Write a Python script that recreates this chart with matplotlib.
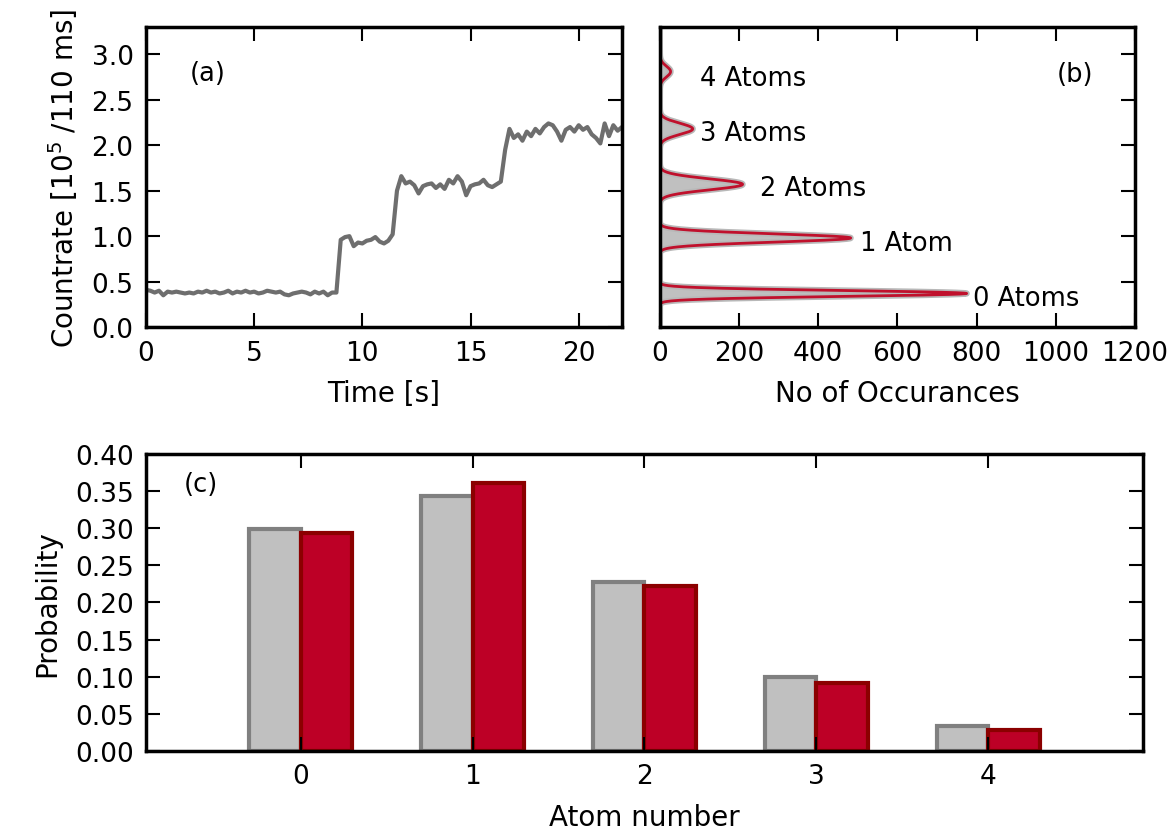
import numpy as np
import matplotlib
matplotlib.use("Agg")
import matplotlib.pyplot as plt

# --- (a) fluorescence trace, 0.2 s sampling ---
time_s = np.round(np.arange(111) * 0.2, 1)
countrate = [
    0.41, 0.40, 0.38, 0.40, 0.35, 0.39, 0.38, 0.39, 0.38, 0.37,
    0.38, 0.37, 0.39, 0.38, 0.40, 0.38, 0.39, 0.37, 0.38, 0.40,
    0.37, 0.39, 0.38, 0.40, 0.38, 0.39, 0.37, 0.38, 0.40, 0.39,
    0.38, 0.39, 0.36, 0.35, 0.37, 0.38, 0.39, 0.38, 0.36, 0.39,
    0.37, 0.39, 0.35, 0.38, 0.38,
    0.96, 0.99, 1.00, 0.89, 0.93, 0.92, 0.95, 0.96, 0.99, 0.94,
    0.92, 0.95, 1.02,
    1.50, 1.66, 1.58, 1.60, 1.56, 1.47, 1.55, 1.57, 1.58, 1.53,
    1.57, 1.52, 1.62, 1.58, 1.66, 1.60, 1.45, 1.55, 1.57, 1.58,
    1.62, 1.56, 1.54, 1.57, 1.60,
    1.95, 2.18, 2.08, 2.12, 2.05, 2.15, 2.10, 2.18, 2.13, 2.20,
    2.24, 2.22, 2.15, 2.05, 2.17, 2.20, 2.15, 2.22, 2.17, 2.20,
    2.12, 2.08, 2.02, 2.24, 2.10, 2.22, 2.16, 2.20,
]

# --- (b) multi-peak fit of the count histogram ---
peak_labels = ["0 Atoms", "1 Atom", "2 Atoms", "3 Atoms", "4 Atoms"]
peak_centers = [0.37, 0.98, 1.57, 2.18, 2.81]
peak_heights = [775, 482, 209, 83, 27]
peak_widths = [0.032, 0.045, 0.060, 0.062, 0.060]
label_pos_x = [790, 505, 253, 101, 101]
label_pos_y = [0.32, 0.92, 1.53, 2.13, 2.74]

# --- (c) atom number statistics ---
atom_number = [0, 1, 2, 3, 4]
prob_measured = [0.299, 0.344, 0.228, 0.100, 0.034]
prob_fit = [0.293, 0.361, 0.222, 0.091, 0.028]

plt.rcParams['font.family'] = 'DejaVu Sans'
plt.rcParams['font.size'] = 19

TICK = 19
LABEL = 20
NOTE = 18.5

fig = plt.figure(figsize=(11.7, 8.37), dpi=100)
ax1 = fig.add_axes([0.1248, 0.608, 0.4068, 0.3585])
ax2 = fig.add_axes([0.564, 0.608, 0.406, 0.3585])
ax3 = fig.add_axes([0.1248, 0.1016, 0.852, 0.3548])


def style(ax):
    for s in ax.spines.values():
        s.set_linewidth(2.5)
    ax.tick_params(direction='in', length=10, width=1.5, top=True, right=True,
                   labelsize=TICK, pad=9)


ax1.plot(time_s, countrate, color='#6e6e6e', lw=3)
ax1.set_xlim(0, 22)
ax1.set_ylim(0, 3.3)
ax1.set_xticks([0, 5, 10, 15, 20])
ax1.set_yticks([0.0, 0.5, 1.0, 1.5, 2.0, 2.5, 3.0])
ax1.set_yticklabels(['0.0', '0.5', '1.0', '1.5', '2.0', '2.5', '3.0'])
ax1.set_xlabel('Time [s]', fontsize=LABEL, labelpad=10)
ax1.set_ylabel('Countrate [10$^5$ /110 ms]', fontsize=LABEL, labelpad=8)
ax1.text(2.0, 2.79, '(a)', fontsize=NOTE, va='center')
style(ax1)

y = np.linspace(0, 3.3, 1500)
fit = np.zeros_like(y)
for c, h, w in zip(peak_centers, peak_heights, peak_widths):
    fit += h * np.exp(-0.5 * ((y - c) / w) ** 2)
ax2.fill_betweenx(y, 0, fit, color='#c0c0c0', lw=0)
ax2.plot(fit, y, color='#b8b8b8', lw=4.5)
ax2.plot(fit, y, color='#c0102c', lw=2)
for lab, lx, ly in zip(peak_labels, label_pos_x, label_pos_y):
    ax2.text(lx, ly, lab, fontsize=NOTE, va='center')
ax2.text(1003, 2.78, '(b)', fontsize=NOTE, va='center')
ax2.set_xlim(0, 1200)
ax2.set_ylim(0, 3.3)
ax2.set_xticks([0, 200, 400, 600, 800, 1000, 1200])
ax2.set_yticks([0.0, 0.5, 1.0, 1.5, 2.0, 2.5, 3.0])
ax2.set_xlabel('No of Occurances', fontsize=LABEL, labelpad=10)
style(ax2)
ax2.tick_params(left=False, labelleft=False)

x = np.array(atom_number)
ax3.bar(x - 0.3, prob_measured, width=0.3, align='edge', color='#c0c0c0',
        edgecolor='#808080', lw=3)
ax3.bar(x, prob_fit, width=0.3, align='edge', color='#bd0026',
        edgecolor='#8b0000', lw=3)
ax3.set_xlim(-0.9, 4.9)
ax3.set_ylim(0, 0.4)
ax3.set_xticks(atom_number)
ax3.set_yticks(np.arange(0, 0.41, 0.05))
ax3.set_yticklabels(['%.2f' % v for v in np.arange(0, 0.41, 0.05)])
ax3.set_xlabel('Atom number', fontsize=LABEL, labelpad=10)
ax3.set_ylabel('Probability', fontsize=LABEL, labelpad=10)
ax3.text(-0.68, 0.36, '(c)', fontsize=NOTE, va='center')
style(ax3)

fig.savefig('out.png', dpi=100)
